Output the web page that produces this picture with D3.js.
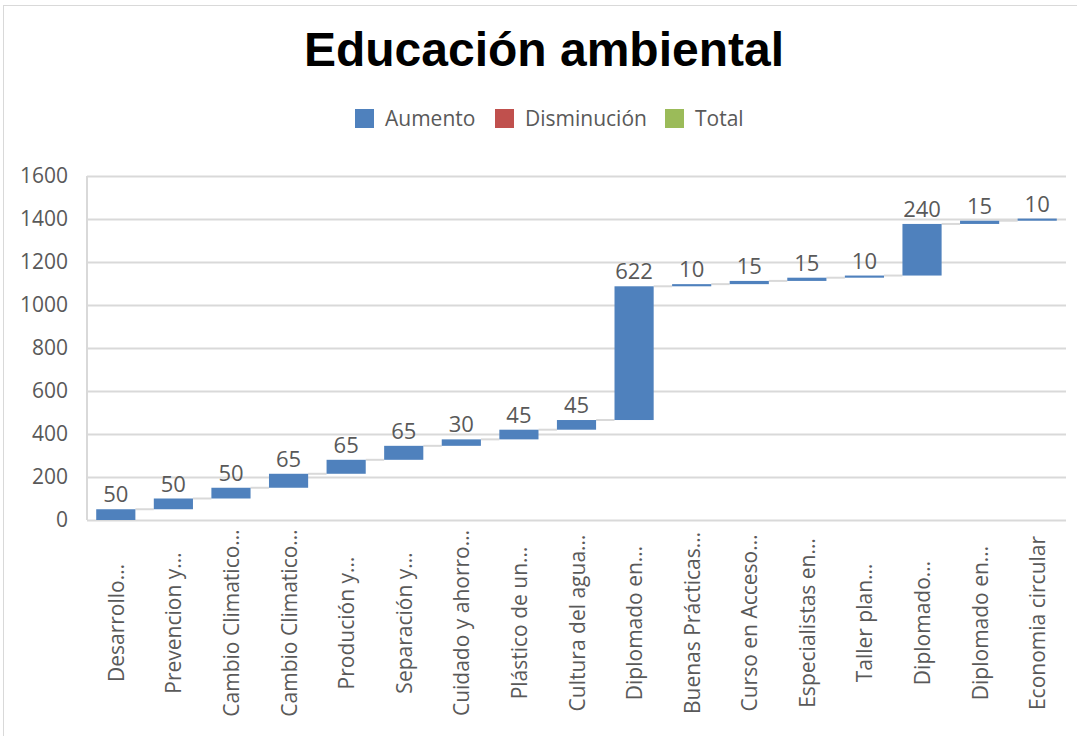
<!DOCTYPE html>
<html>
<head>
<meta charset="utf-8">
<script src="https://cdn.jsdelivr.net/npm/d3@7"></script>
<style>
  body { margin: 0; background: #fff; }
  svg { display: block; }
</style>
</head>
<body>
<svg id="canvas"></svg>
<script>
const categories = ['Desarrollo…', 'Prevencion y…', 'Cambio Climatico…', 'Cambio Climatico…', 'Produción y…',
  'Separación y…', 'Cuidado y ahorro…', 'Plástico de un…', 'Cultura del agua…', 'Diplomado en…',
  'Buenas Prácticas…', 'Curso en Acceso…', 'Especialistas en…', 'Taller plan…', 'Diplomado…',
  'Diplomado en…', 'Economia circular']
const increments = [50, 50, 50, 65, 65, 65, 30, 45, 45, 622, 10, 15, 15, 10, 240, 15, 10]
const yTicks = [0, 200, 400, 600, 800, 1000, 1200, 1400, 1600]
const legendItems = ['Aumento', 'Disminución', 'Total']
const legendColors = ['#4f81bd', '#c0504d', '#9bbb59']

const w = 1077
const h = 736
const margin = { left: 87, right: 11, top: 176, bottom: 216 }
const canvas = d3.select('#canvas').attr('width', w).attr('height', h)

// running totals for the waterfall
let running = 0
const steps = increments.map((v, i) => {
  const start = running
  running += v
  return { i, name: categories[i], value: v, start, end: running }
})

const x = d3.scaleBand()
  .domain(d3.range(categories.length))
  .range([margin.left, w - margin.right])
  .paddingInner(0.32)
  .paddingOuter(0.16)

const y = d3.scaleLinear()
  .domain([0, 1600])
  .range([h - margin.bottom, margin.top])

// outer chart border
canvas.append('rect')
  .attr('x', 3.5).attr('y', 5.5)
  .attr('width', w + 10).attr('height', h + 10)
  .attr('fill', 'none').attr('stroke', '#d9d9d9')

// title
canvas.append('text')
  .attr('x', 544).attr('y', 66)
  .attr('text-anchor', 'middle')
  .attr('font-family', 'Liberation Sans, Arial, sans-serif')
  .attr('font-weight', 'bold')
  .attr('font-size', 48)
  .attr('fill', '#000')
  .text('Educación ambiental')

// legend
const legendX = [355, 495, 665]
const legend = canvas.append('g')
legendItems.forEach((item, i) => {
  legend.append('rect')
    .attr('x', legendX[i]).attr('y', 109)
    .attr('width', 19).attr('height', 19)
    .attr('fill', legendColors[i])
  legend.append('text')
    .attr('x', legendX[i] + 30).attr('y', 126)
    .attr('font-family', 'Open Sans, sans-serif')
    .attr('font-size', 21)
    .attr('fill', '#595959')
    .text(item)
})

// gridlines
const yAxis = d3.axisLeft(y)
  .tickValues(yTicks)
  .tickSize(-(w - margin.left - margin.right))
  .tickPadding(19)
  .tickFormat(d3.format('d'))

canvas.append('g')
  .attr('transform', `translate(${margin.left},0)`)
  .call(yAxis)
  .call(g => g.select('.domain').remove())
  .call(g => g.selectAll('line').attr('stroke', '#d9d9d9').attr('stroke-width', 2))
  .call(g => g.selectAll('text')
    .attr('font-family', 'Open Sans, sans-serif')
    .attr('font-size', 21)
    .attr('fill', '#595959'))

// vertical axis line
canvas.append('line')
  .attr('x1', margin.left).attr('x2', margin.left)
  .attr('y1', margin.top).attr('y2', y(0))
  .attr('stroke', '#d9d9d9').attr('stroke-width', 2)

// connectors
canvas.append('g')
  .selectAll('line')
  .data(steps.slice(0, -1))
  .enter()
  .append('line')
  .attr('x1', d => x(d.i) + x.bandwidth())
  .attr('x2', d => x(d.i + 1))
  .attr('y1', d => y(d.end))
  .attr('y2', d => y(d.end))
  .attr('stroke', '#d9d9d9')
  .attr('stroke-width', 2)

// bars
canvas.append('g')
  .selectAll('rect')
  .data(steps)
  .enter()
  .append('rect')
  .attr('x', d => x(d.i))
  .attr('width', x.bandwidth())
  .attr('y', d => y(d.end))
  .attr('height', d => y(d.start) - y(d.end))
  .attr('fill', legendColors[0])

// value labels
canvas.append('g')
  .selectAll('text')
  .data(steps)
  .enter()
  .append('text')
  .attr('x', d => x(d.i) + x.bandwidth() / 2)
  .attr('y', d => y(d.end) - 7)
  .attr('text-anchor', 'middle')
  .attr('font-family', 'Open Sans, sans-serif')
  .attr('font-size', 22)
  .attr('fill', '#595959')
  .text(d => d.value)

// category labels (centred under the axis, like Excel does)
canvas.append('g')
  .selectAll('text')
  .data(steps)
  .enter()
  .append('text')
  .attr('transform', d => `translate(${x(d.i) + x.bandwidth() / 2 + 8},${y(0) + 103}) rotate(-90)`)
  .attr('text-anchor', 'middle')
  .attr('font-family', 'Open Sans, sans-serif')
  .attr('font-size', 21)
  .attr('fill', '#595959')
  .text(d => d.name)
</script>
</body>
</html>
